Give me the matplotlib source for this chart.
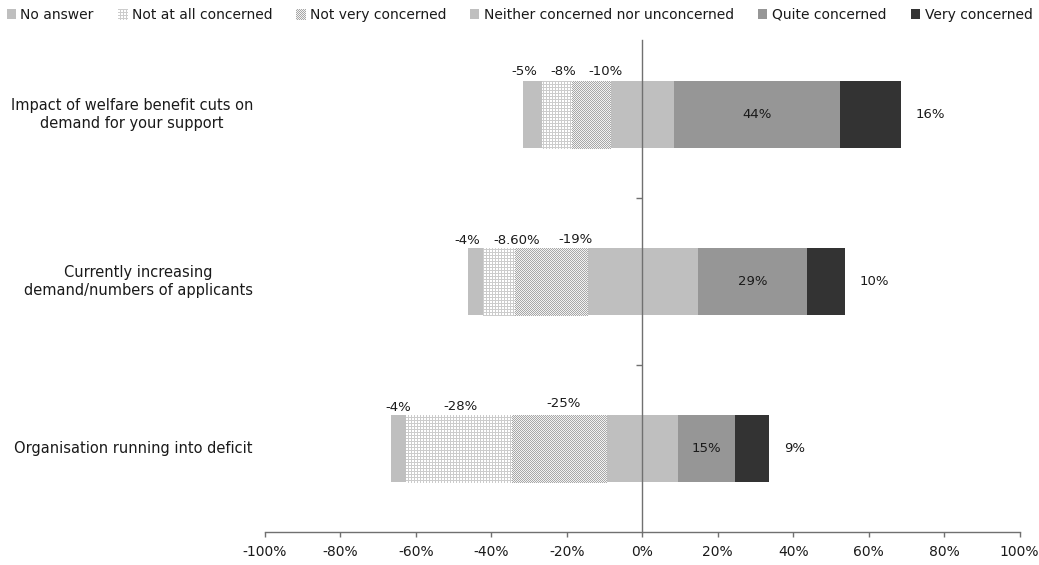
import matplotlib
matplotlib.use("Agg")
import matplotlib.pyplot as plt
import matplotlib.transforms as mtransforms
from matplotlib.patches import Patch
import numpy as np

# ---- data -------------------------------------------------------------
categories = [
    "Impact of welfare benefit cuts on\ndemand for your support",
    "Currently increasing\ndemand/numbers of applicants",
    "Organisation running into deficit",
]
no_answer = [5, 4, 4]
not_at_all = [8, 8.6, 28]
not_very = [10, 19, 25]
neither = [17, 29.4, 19]
quite = [44, 29, 15]
very = [16, 10, 9]

neg_label_text = [["-5%", "-8%", "-10%"],
                  ["-4%", "-8.60%", "-19%"],
                  ["-4%", "-28%", "-25%"]]
xticks = [-100, -80, -60, -40, -20, 0, 20, 40, 60, 80, 100]

series_names = ["No answer", "Not at all concerned", "Not very concerned",
                "Neither concerned nor unconcerned", "Quite concerned",
                "Very concerned"]

# ---- layout / style ----------------------------------------------------
W, H = 1039, 565
FS_VAL = 9.5
FS_CAT = 10.5
FS_LEG = 10
FS_TICK = 10
TXT = "#1a1a1a"
AXIS_COL = "#707070"
C_NOANS = "#bfbfbf"
C_NEITHER = "#bfbfbf"
C_QUITE = "#969696"
C_VERY = "#333333"

# label anchor points (x in %, y in category units) for the negative values
neg_label_pos = [[(-31.4, 2.26), (-21.0, 2.26), (-9.8, 2.26)],
                 [(-46.5, 1.243), (-33.3, 1.244), (-17.8, 1.254)],
                 [(-64.8, 0.243), (-48.3, 0.25), (-21.0, 0.272)]]

plt.rcParams["font.family"] = ["DejaVu Sans"]

fig = plt.figure(figsize=(W / 100, H / 100), dpi=100)
ax = fig.add_axes([265 / W, 33 / H, 754.6 / W, 501 / H])

ypos = np.array([2, 1, 0], dtype=float)
bh = 0.405

na = np.array(no_answer, float)
naa = np.array(not_at_all, float)
nv = np.array(not_very, float)
ne = np.array(neither, float)
qu = np.array(quite, float)
ve = np.array(very, float)

half = ne / 2.0
# negative side, from zero outward
ax.barh(ypos, -half, left=0, height=bh, color=C_NEITHER, lw=0, zorder=2)
bars_nv = ax.barh(ypos, -nv, left=-half, height=bh, color="white", lw=0, zorder=2)
bars_naa = ax.barh(ypos, -naa, left=-half - nv, height=bh, color="white", lw=0, zorder=2)
ax.barh(ypos, -na, left=-half - nv - naa, height=bh, color=C_NOANS, lw=0, zorder=2)
# positive side
ax.barh(ypos, half, left=0, height=bh, color=C_NEITHER, lw=0, zorder=2)
ax.barh(ypos, qu, left=half, height=bh, color=C_QUITE, lw=0, zorder=2)
ax.barh(ypos, ve, left=half + qu, height=bh, color=C_VERY, lw=0, zorder=2)

# value labels
for i in range(3):
    for j in range(3):
        x, y = neg_label_pos[i][j]
        ax.text(x, y, neg_label_text[i][j], ha="center", va="center",
                fontsize=FS_VAL, color=TXT, zorder=5)
    ax.text(half[i] + qu[i] / 2, ypos[i], f"{quite[i]:g}%", ha="center",
            va="center", fontsize=FS_VAL, color=TXT, zorder=5)
    ax.text(half[i] + qu[i] + ve[i] + 4, ypos[i], f"{very[i]:g}%", ha="left",
            va="center", fontsize=FS_VAL, color=TXT, zorder=5)

# axes
ax.set_xlim(-100, 100)
ax.set_ylim(-0.5, 2.5)
ax.patch.set_visible(False)
for s in ("top", "right"):
    ax.spines[s].set_visible(False)
ax.spines["left"].set_position(("data", 0))
ax.spines["left"].set_bounds(-0.5, 2.446)
for s in ("left", "bottom"):
    ax.spines[s].set_color(AXIS_COL)
    ax.spines[s].set_linewidth(1.0)
    ax.spines[s].set_zorder(4)
ax.set_yticks([0.5, 1.5])
ax.set_yticklabels([])
ax.tick_params(axis="y", direction="out", length=4.5, width=1.0, color=AXIS_COL)
ax.set_xticks(xticks)
ax.set_xticklabels([f"{v}%" for v in xticks], fontsize=FS_TICK, color=TXT)
ax.tick_params(axis="x", direction="out", length=3.5, width=1.0,
               color=AXIS_COL, pad=6)

lab_tr = mtransforms.offset_copy(ax.transData, fig=fig, x=-12, y=0, units="dots")
for y, lab in zip(ypos, categories):
    ax.text(-100, y, lab, transform=lab_tr, ha="right", va="center",
            multialignment="center", fontsize=FS_CAT, color=TXT,
            linespacing=1.32)

# legend
handles = [Patch(facecolor=C_NOANS, lw=0), Patch(facecolor="white", lw=0),
           Patch(facecolor="white", lw=0), Patch(facecolor=C_NEITHER, lw=0),
           Patch(facecolor=C_QUITE, lw=0), Patch(facecolor=C_VERY, lw=0)]
leg = fig.legend(handles, series_names, loc="center", ncol=6,
                 bbox_to_anchor=(0.5, 1 - 15 / H), frameon=False,
                 fontsize=FS_LEG, handlelength=0.65, handleheight=0.65,
                 handletextpad=0.35, columnspacing=1.72, borderaxespad=0,
                 borderpad=0)
for t in leg.get_texts():
    t.set_color(TXT)

# pixel textures for the two "not concerned" series
yy, xx = np.mgrid[0:H, 0:W]
lattice = (xx % 3 == 0) | (yy % 3 == 0)
checker = (xx + yy) % 2 == 0


def texture(mask, fg, bg):
    img = np.empty((H, W, 3))
    img[:] = bg
    img[mask] = fg
    return img


tex_naa = texture(lattice, 0.80, 1.0)
tex_nv = texture(checker, 0.66, 0.95)

fig.canvas.draw()
for bars, tex in ((bars_naa, tex_naa), (bars_nv, tex_nv)):
    for p in bars.patches:
        im = fig.figimage(tex, xo=0, yo=0, zorder=3, origin="lower")
        im.set_clip_path(p)
lh = leg.legend_handles
for p, tex in ((lh[1], tex_naa), (lh[2], tex_nv)):
    im = fig.figimage(tex, xo=0, yo=0, zorder=6, origin="lower")
    im.set_clip_path(p)

fig.savefig("out.png", dpi=100)
